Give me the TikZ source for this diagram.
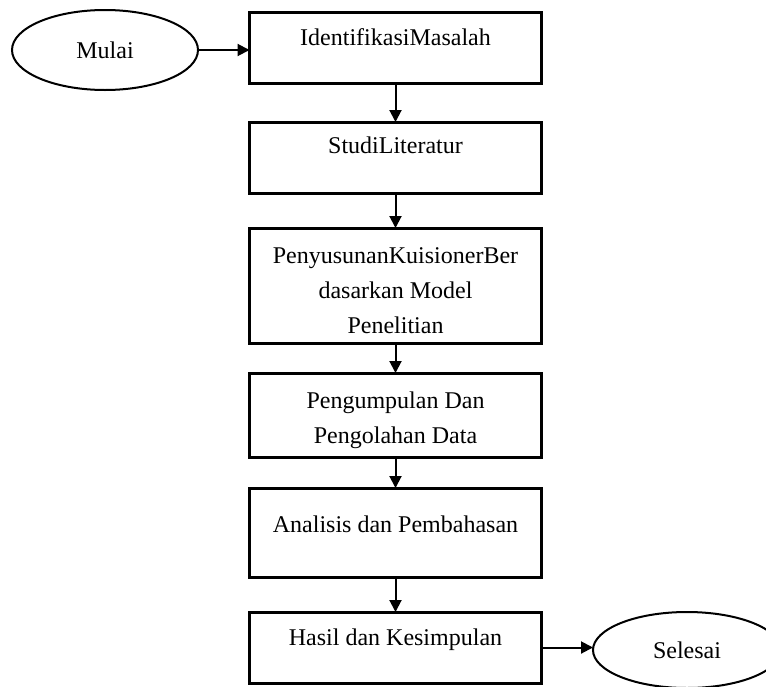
\documentclass[tikz,border=0pt]{standalone}
\usepackage{fontspec}
\setmainfont{Liberation Serif}
\usetikzlibrary{arrows.meta,shapes.geometric,calc}

\tikzset{
  box/.style={draw, line width=1.5pt, minimum width=146pt, inner sep=0pt, outer sep=0pt},
  oval/.style={draw, ellipse, line width=1pt, inner sep=0pt, outer sep=0pt, font=\fontsize{12}{17.5}\selectfont},
  txt/.style={font=\fontsize{12}{17.5}\selectfont, inner sep=0pt, align=center, anchor=base},
  flow/.style={-{Triangle[length=6pt,width=6pt]}, line width=1pt}
}

\begin{document}
\begin{tikzpicture}[x=0.5pt,y=-0.5pt]
\useasboundingbox (0,0) rectangle (766,686);
\clip (0,0) rectangle (766,686);

% start and end
\node[oval, minimum width=93pt, minimum height=40pt] (mulai) at (105,50) {Mulai};
\node[oval, minimum width=94pt, minimum height=38pt] (selesai) at (687,650) {Selesai};

% steps
\node[box, minimum height=35.5pt] (b1) at (395.5,47.5) {};
\node[box, minimum height=35.5pt] (b2) at (395.5,157.5) {};
\node[box, minimum height=57.5pt] (b3) at (395.5,285.5) {};
\node[box, minimum height=42pt] (b4) at (395.5,415) {};
\node[box, minimum height=44.5pt] (b5) at (395.5,532.5) {};
\node[box, minimum height=35.5pt] (b6) at (395.5,647.5) {};

% labels (base = last line)
\node[txt] (t1) at ($(b1.north)+(0,33)$) {IdentifikasiMasalah};
\node[txt] (t2) at ($(b2.north)+(0,31)$) {StudiLiteratur};
\node[txt] (t3) at ($(b3.north)+(0,105)$) {PenyusunanKuisionerBer\\dasarkan Model\\Penelitian};
\node[txt] (t4) at ($(b4.north)+(0,70)$) {Pengumpulan Dan\\Pengolahan Data};
\node[txt] (t5) at ($(b5.north)+(0,44)$) {Analisis dan Pembahasan};
\node[txt] (t6) at ($(b6.north)+(0,33)$) {Hasil dan Kesimpulan};

% connectors
\draw[flow] (mulai.east) -- (mulai.east -| b1.west);
\draw[flow] (b1) -- (b2);
\draw[flow] (b2) -- (b3);
\draw[flow] (b3) -- (b4);
\draw[flow] (b4) -- (b5);
\draw[flow] (b5) -- (b6);
\draw[flow] (b6.east) -- (b6.east -| selesai.west);
\end{tikzpicture}
\end{document}
